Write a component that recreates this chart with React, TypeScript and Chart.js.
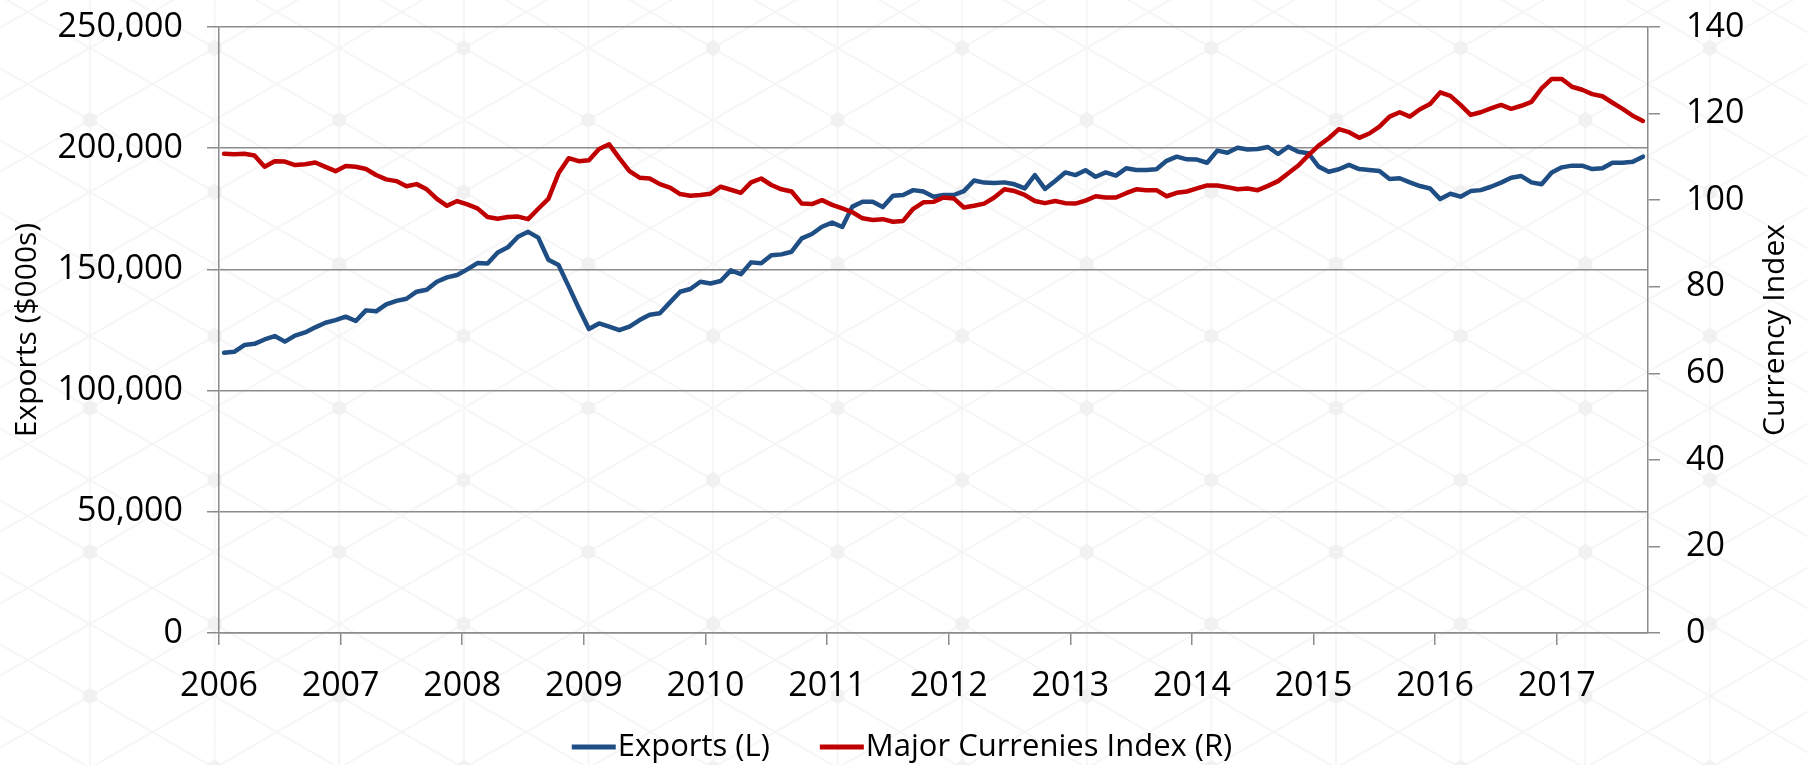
import React, { useEffect, useRef } from "react";
import { Chart, registerables } from "chart.js";

Chart.register(...registerables);

// ---- Data (monthly, Jan 2006 .. Sep 2017) ----
const yearLabels = ["2006", "2007", "2008", "2009", "2010", "2011", "2012", "2013", "2014", "2015", "2016", "2017"];

const exportsValues = [
  115600, 116000, 118800, 119300, 121100, 122500, 120200, 122700, 124000, 126100, 128000, 129100,
  130500, 128700, 133100, 132700, 135600, 137000, 137900, 140800, 141600, 144900, 146700, 147700,
  150000, 152600, 152400, 157000, 159100, 163500, 165500, 163100, 154000, 151800, 143000, 134000,
  125400, 127700, 126400, 124900, 126400, 129100, 131300, 131900, 136400, 140800, 141900, 144900,
  144200, 145200, 149600, 148000, 152900, 152500, 155800, 156200, 157300, 162800, 164600, 167600,
  169300, 167500, 175900, 177900, 177900, 175700, 180400, 180700, 182700, 182100, 180000, 180700,
  180700, 182300, 186700, 185800, 185600, 185900, 185100, 183400, 188900, 183200, 186500, 190000,
  188900, 190900, 188200, 190000, 188700, 191700, 191000, 191000, 191300, 194800, 196500, 195400,
  195300, 194000, 199000, 198100, 200200, 199500, 199700, 200500, 197600, 200600, 198500, 197900,
  192400, 190300, 191300, 193100, 191400, 191000, 190600, 187300, 187600, 185900, 184400, 183400,
  179000, 181200, 180000, 182300, 182700, 184100, 185800, 187800, 188500, 185900, 185100, 190000,
  192100, 192800, 192800, 191400, 191700, 194000, 194000, 194400, 196500,
];

const currencyIndexValues = [
  110.7, 110.6, 110.7, 110.3, 107.7, 109.0, 108.9, 108.1, 108.3, 108.7, 107.7, 106.7,
  107.9, 107.7, 107.2, 105.8, 104.8, 104.4, 103.2, 103.7, 102.5, 100.3, 98.7, 99.8,
  99.0, 98.1, 96.1, 95.7, 96.1, 96.2, 95.6, 98.0, 100.3, 106.2, 109.7, 109.0,
  109.2, 111.8, 112.9, 109.7, 106.7, 105.2, 105.0, 103.7, 102.9, 101.4, 101.0, 101.2,
  101.5, 103.1, 102.4, 101.7, 104.1, 105.0, 103.5, 102.5, 102.0, 99.2, 99.1, 100.0,
  98.9, 98.1, 97.2, 95.8, 95.4, 95.6, 95.0, 95.2, 98.0, 99.5, 99.6, 100.6,
  100.4, 98.3, 98.7, 99.2, 100.6, 102.5, 102.1, 101.2, 99.8, 99.3, 99.8, 99.3,
  99.2, 99.9, 100.9, 100.6, 100.6, 101.6, 102.5, 102.3, 102.3, 100.9, 101.7, 102.0,
  102.7, 103.4, 103.4, 103.0, 102.5, 102.7, 102.3, 103.3, 104.4, 106.2, 108.0, 110.4,
  112.6, 114.3, 116.4, 115.7, 114.4, 115.4, 117.0, 119.3, 120.3, 119.3, 121.0, 122.2,
  124.9, 124.1, 122.0, 119.7, 120.3, 121.2, 122.0, 121.1, 121.8, 122.7, 125.8, 128.0,
  128.0, 126.2, 125.5, 124.5, 124.0, 122.5, 121.1, 119.5, 118.3,
];

const leftTicks = [0, 50000, 100000, 150000, 200000, 250000];
const rightTicks = [0, 20, 40, 60, 80, 100, 120, 140];
const seriesLabels = ["Exports (L)", "Major Currenies Index (R)"];
const leftAxisTitle = "Exports ($000s)";
const rightAxisTitle = "Currency Index";

// ---- Styles ----
const W = 1808;
const H = 765;
const BLUE = "#1F4E84";
const RED = "#C00000";
const GRID = "#8C8C8C";
const WATERMARK_LINE = "#f6f6f6";
const WATERMARK_DOT = "#f1f1f1";
const FONT = "'Open Sans', sans-serif";
const TICK_SIZE = 34;
const TITLE_SIZE = 30;
const LEGEND_SIZE = 31;

// faint isometric watermark behind the chart
const watermarkPlugin = {
  id: "watermark",
  beforeDraw(chart: any) {
    const ctx = chart.ctx as CanvasRenderingContext2D;
    const dx = 124.6;
    const dy = 144;
    const x0 = 90;
    const slope = 72 / dx;
    ctx.save();
    ctx.fillStyle = "#fff";
    ctx.fillRect(0, 0, W, H);
    ctx.strokeStyle = WATERMARK_LINE;
    ctx.lineWidth = 2;
    ctx.beginPath();
    for (let k = -1; k < 16; k++) {
      const x = x0 + k * dx;
      ctx.moveTo(x, 0);
      ctx.lineTo(x, H);
    }
    for (let m = -20; m < 30; m++) {
      const yb = 120 + m * 72;
      ctx.moveTo(0, yb - slope * x0);
      ctx.lineTo(W, yb + slope * (W - x0));
      ctx.moveTo(0, yb + slope * x0);
      ctx.lineTo(W, yb - slope * (W - x0));
    }
    ctx.stroke();
    ctx.fillStyle = WATERMARK_DOT;
    for (let k = -1; k < 16; k++) {
      const x = x0 + k * dx;
      const yStart = k % 2 === 0 ? 120 : 48;
      for (let m = -1; m < 7; m++) {
        const y = yStart + m * dy;
        ctx.beginPath();
        for (let a = 0; a < 6; a++) {
          const ang = Math.PI / 6 + (a * Math.PI) / 3;
          const px = x + 8 * Math.cos(ang);
          const py = y + 8 * Math.sin(ang);
          if (a === 0) ctx.moveTo(px, py);
          else ctx.lineTo(px, py);
        }
        ctx.closePath();
        ctx.fill();
      }
    }
    ctx.restore();
  },
};

const decorPlugin = {
  id: "decor",
  afterDraw(chart: any) {
    const ctx = chart.ctx as CanvasRenderingContext2D;
    const area = chart.chartArea;
    // right axis title (reads bottom-to-top)
    ctx.save();
    ctx.font = `${TITLE_SIZE}px ${FONT}`;
    ctx.fillStyle = "#000";
    ctx.translate(1775, (area.top + area.bottom) / 2);
    ctx.rotate(-Math.PI / 2);
    ctx.textAlign = "center";
    ctx.textBaseline = "middle";
    ctx.fillText(rightAxisTitle, 0, 0);
    ctx.restore();

    // legend
    ctx.save();
    ctx.font = `${LEGEND_SIZE}px ${FONT}`;
    ctx.textBaseline = "middle";
    ctx.textAlign = "left";
    const lineLen = 44;
    const gapLT = 2;
    const gapItems = 50;
    const items = chart.data.datasets.map((d: any) => ({
      label: d.label,
      color: d.borderColor,
      w: lineLen + gapLT + ctx.measureText(d.label).width,
    }));
    const total = items.reduce((s: number, it: any) => s + it.w, 0) + gapItems * (items.length - 1);
    let x = 902 - total / 2;
    const y = 747;
    items.forEach((it: any) => {
      ctx.strokeStyle = it.color;
      ctx.lineWidth = 5;
      ctx.lineCap = "butt";
      ctx.beginPath();
      ctx.moveTo(x, y);
      ctx.lineTo(x + lineLen, y);
      ctx.stroke();
      ctx.fillStyle = "#000";
      ctx.fillText(it.label, x + lineLen + gapLT, y);
      x += it.w + gapItems;
    });
    ctx.restore();
  },
};

export default function App() {
  const canvasRef = useRef<HTMLCanvasElement | null>(null);

  useEffect(() => {
    const canvas = canvasRef.current;
    if (!canvas) return;
    const chart = new Chart(canvas, {
      type: "line",
      data: {
        datasets: [
          {
            label: seriesLabels[0],
            data: exportsValues.map((v, i) => ({ x: i, y: v })),
            yAxisID: "y",
            borderColor: BLUE,
            backgroundColor: BLUE,
            borderWidth: 4.5,
            pointRadius: 0,
            tension: 0,
            borderJoinStyle: "round",
            borderCapStyle: "round",
            order: 1,
          },
          {
            label: seriesLabels[1],
            data: currencyIndexValues.map((v, i) => ({ x: i, y: v })),
            yAxisID: "y1",
            borderColor: RED,
            backgroundColor: RED,
            borderWidth: 4.5,
            pointRadius: 0,
            tension: 0,
            borderJoinStyle: "round",
            borderCapStyle: "round",
            order: 0,
          },
        ],
      },
      options: {
        animation: false,
        responsive: false,
        maintainAspectRatio: false,
        devicePixelRatio: 1,
        layout: { padding: { top: 27, left: 0, right: 0, bottom: 0 } },
        plugins: {
          legend: { display: false },
          tooltip: { enabled: false },
        },
        scales: {
          x: {
            type: "linear",
            min: -0.5,
            max: exportsValues.length - 0.5,
            afterBuildTicks: (scale: any) => {
              scale.ticks = yearLabels.map((_, k) => ({ value: k * 12 - 0.5 }));
            },
            afterFit: (scale: any) => {
              scale.height = H - 633;
              scale.paddingLeft = 0;
              scale.paddingRight = 0;
            },
            ticks: {
              autoSkip: false,
              maxRotation: 0,
              minRotation: 0,
              padding: 21,
              color: "#000",
              font: { family: FONT, size: TICK_SIZE },
              callback: (value: any) => yearLabels[Math.round((Number(value) + 0.5) / 12)],
            },
            grid: {
              drawOnChartArea: false,
              drawTicks: true,
              tickLength: 12,
              color: GRID,
              lineWidth: 1.5,
            },
            border: { display: true, color: GRID, width: 1.5 },
          },
          y: {
            type: "linear",
            position: "left",
            min: leftTicks[0],
            max: leftTicks[leftTicks.length - 1],
            afterBuildTicks: (scale: any) => {
              scale.ticks = leftTicks.map((v) => ({ value: v }));
            },
            afterFit: (scale: any) => {
              scale.width = 219;
              scale.paddingTop = 0;
              scale.paddingBottom = 0;
            },
            ticks: {
              padding: 24,
              color: "#000",
              font: { family: FONT, size: TICK_SIZE },
              callback: (value: any) => Number(value).toLocaleString("en-US"),
            },
            grid: {
              drawOnChartArea: true,
              drawTicks: true,
              tickLength: 12,
              color: GRID,
              lineWidth: 1.5,
            },
            border: { display: true, color: GRID, width: 1.5 },
            title: {
              display: true,
              text: leftAxisTitle,
              color: "#000",
              font: { family: FONT, size: TITLE_SIZE },
              padding: { top: 9, bottom: 0 },
            },
          },
          y1: {
            type: "linear",
            position: "right",
            min: rightTicks[0],
            max: rightTicks[rightTicks.length - 1],
            afterBuildTicks: (scale: any) => {
              scale.ticks = rightTicks.map((v) => ({ value: v }));
            },
            afterFit: (scale: any) => {
              scale.width = W - 1648;
              scale.paddingTop = 0;
              scale.paddingBottom = 0;
            },
            ticks: {
              padding: 26,
              color: "#000",
              font: { family: FONT, size: TICK_SIZE },
              callback: (value: any) => String(value),
            },
            grid: {
              drawOnChartArea: false,
              drawTicks: true,
              tickLength: 12,
              color: GRID,
              lineWidth: 1.5,
            },
            border: { display: true, color: GRID, width: 1.5 },
          },
        },
      },
      plugins: [watermarkPlugin, decorPlugin],
    } as any);
    return () => chart.destroy();
  }, []);

  return (
    <div style={{ position: "fixed", left: 0, top: 0, width: W, height: H, background: "#fff" }}>
      <canvas ref={canvasRef} width={W} height={H} style={{ display: "block", width: W, height: H }} />
    </div>
  );
}
